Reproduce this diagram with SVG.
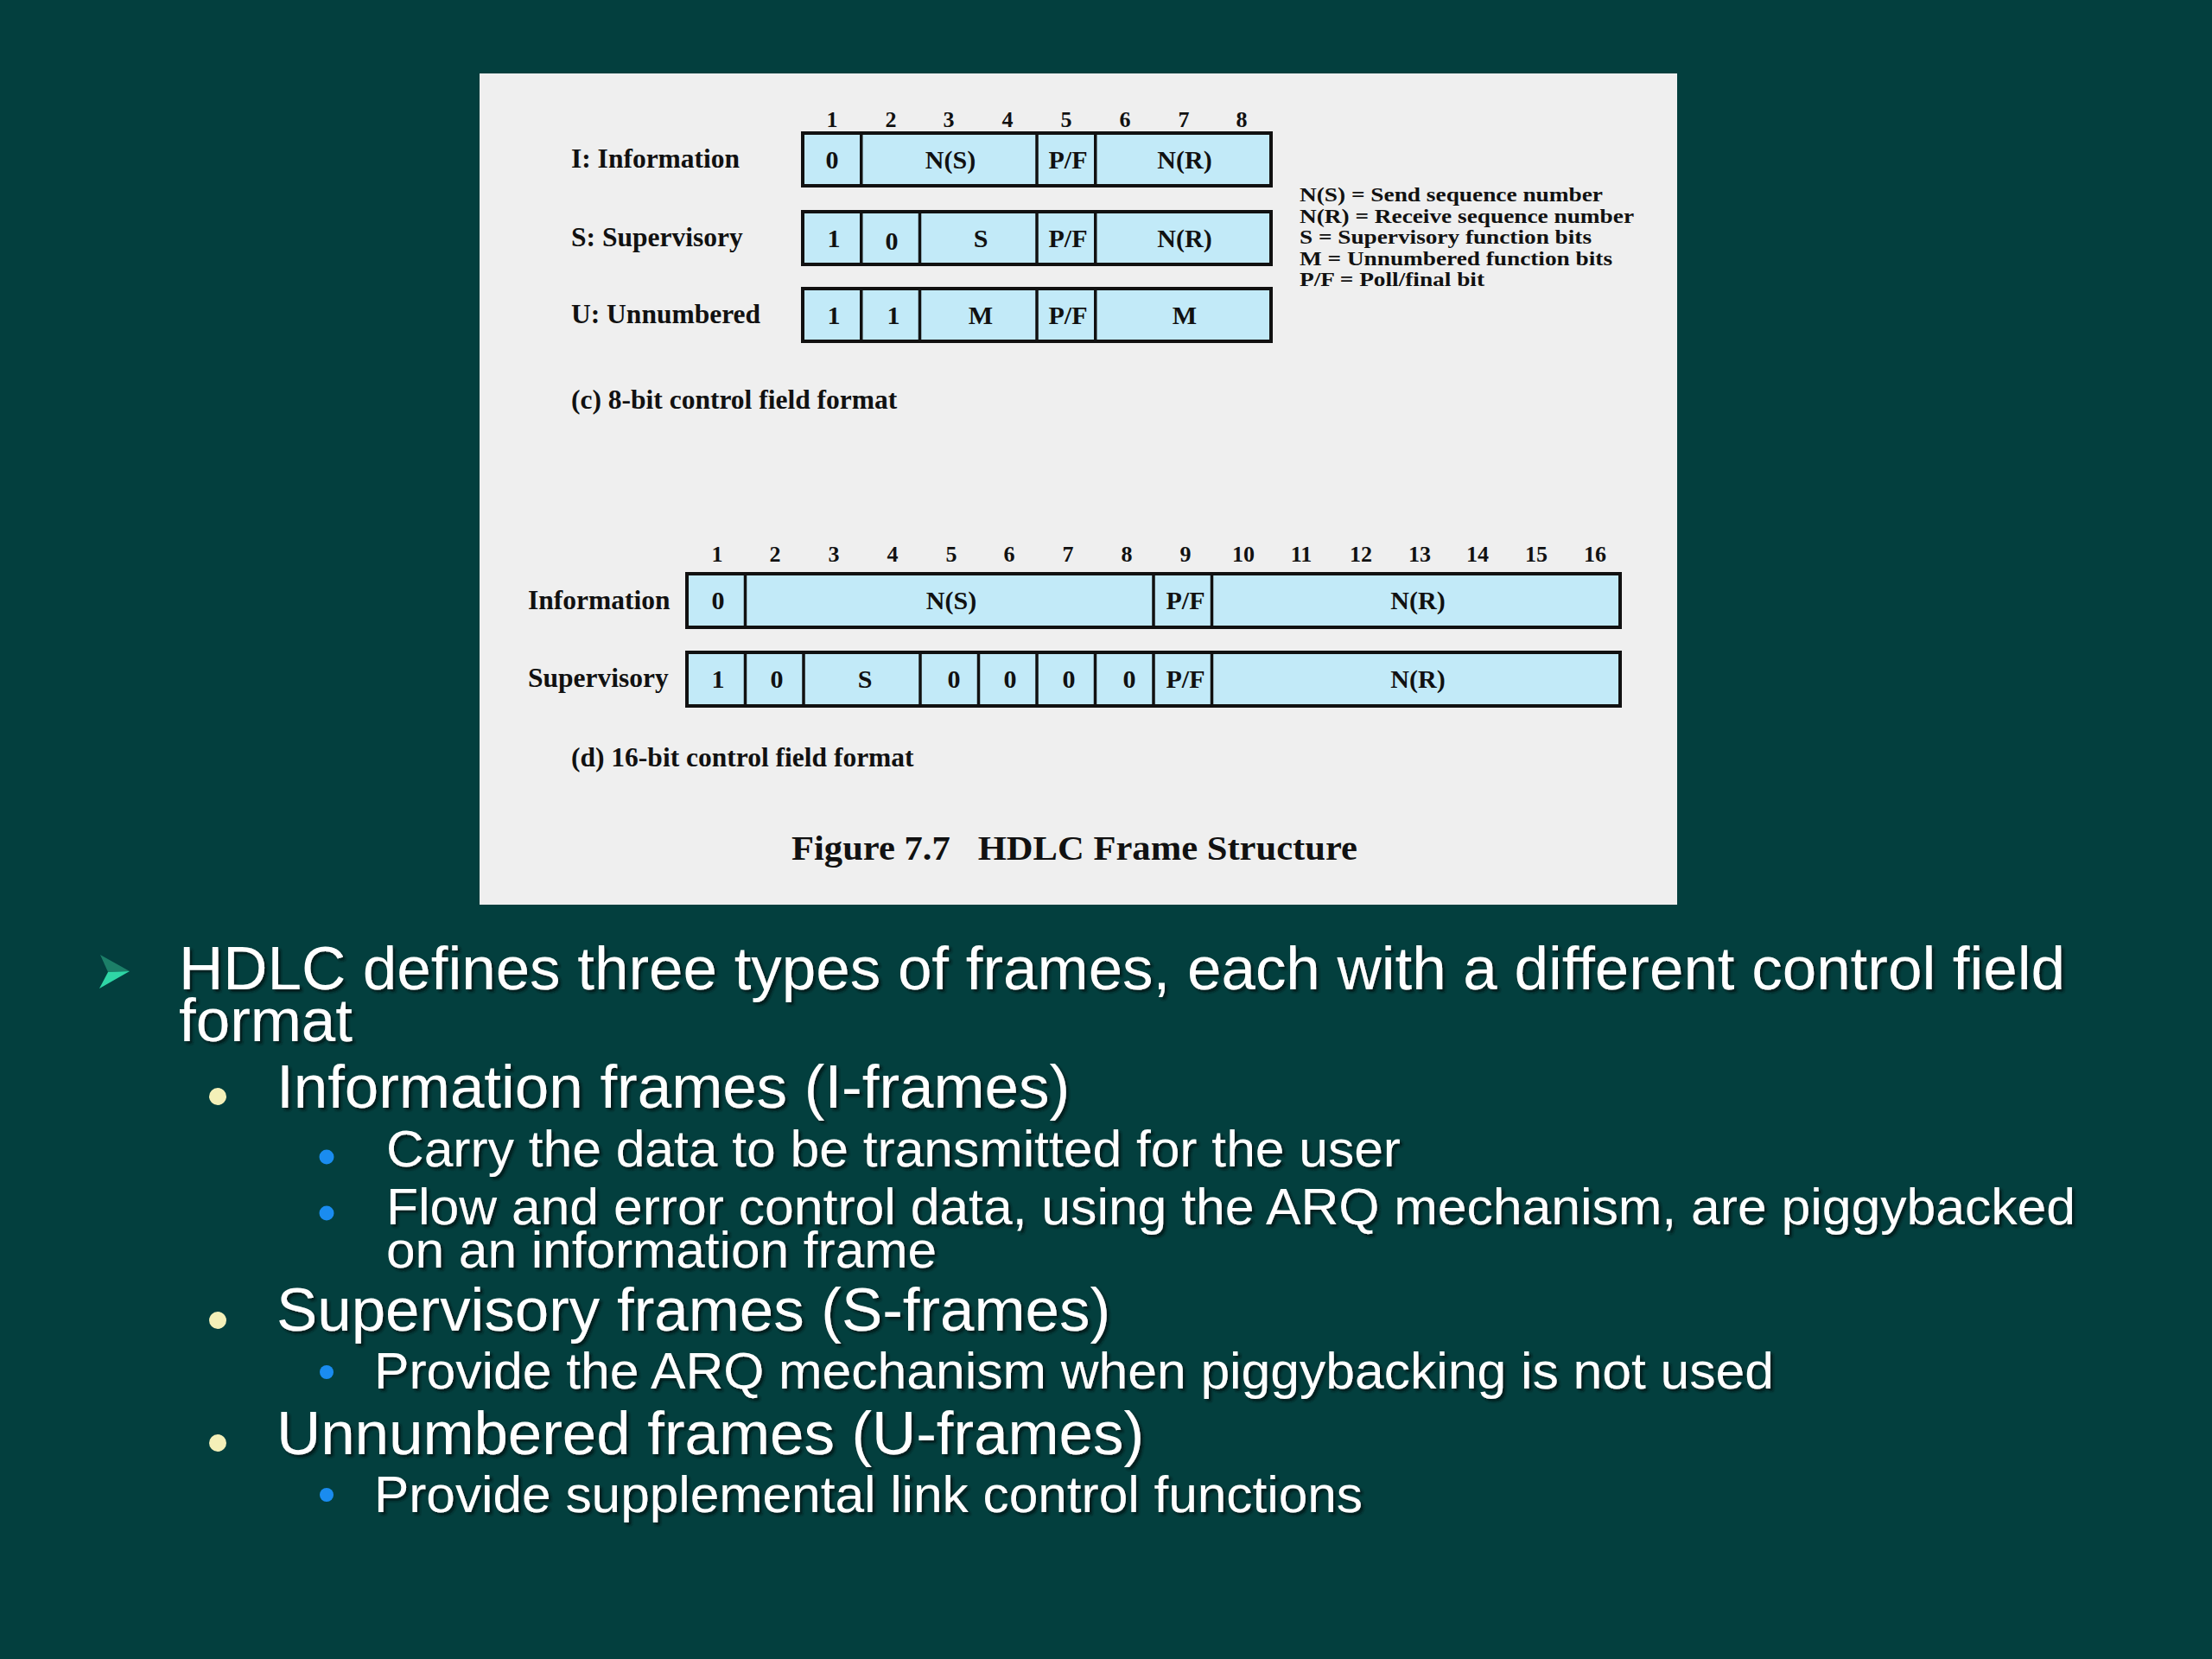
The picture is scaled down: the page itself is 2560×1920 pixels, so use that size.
<svg xmlns="http://www.w3.org/2000/svg" width="2560" height="1920" viewBox="0 0 2560 1920">
<defs>
<filter id="sh" x="-5%" y="-20%" width="110%" height="150%">
<feDropShadow dx="3" dy="3" stdDeviation="1.5" flood-color="#001412" flood-opacity="0.9"/>
</filter>
<style>
.f{font-family:"Liberation Serif","Times New Roman",serif;font-weight:bold;fill:#111;}
.cell{fill:#c2eaf8;stroke:#111;stroke-width:4;}
.div{stroke:#111;stroke-width:3.5;}
.n{font-size:26px;text-anchor:middle;}
.c{font-size:30px;text-anchor:middle;}
.lab{font-size:31.5px;}
.cap{font-size:31.5px;}
.leg{font-size:24px;}
.s{font-family:"Liberation Sans",Arial,sans-serif;fill:#ffffff;filter:url(#sh);}
.l1{font-size:71px;}
.l2{font-size:71px;}
.l3{font-size:60px;}
.yb{fill:#f4f0b8;}
.bb{fill:#1a8cf0;}
</style>
</defs>
<rect width="2560" height="1920" fill="#033f3e"/>
<rect x="555" y="85" width="1386" height="962" fill="#efefef"/>

<g id="eight-bit">
<g class="f n">
<text x="963" y="147">1</text><text x="1031" y="147">2</text><text x="1098" y="147">3</text><text x="1166" y="147">4</text>
<text x="1234" y="147">5</text><text x="1302" y="147">6</text><text x="1370" y="147">7</text><text x="1437" y="147">8</text>
</g>
<g id="row-i">
<text class="f lab" x="661" y="194">I: Information</text>
<rect class="cell" x="929" y="154" width="542" height="61"/>
<line class="div" x1="996.75" y1="154" x2="996.75" y2="215"/>
<line class="div" x1="1200" y1="154" x2="1200" y2="215"/>
<line class="div" x1="1267.75" y1="154" x2="1267.75" y2="215"/>
<text class="f c" x="963" y="195">0</text>
<text class="f c" x="1100" y="195">N(S)</text>
<text class="f c" x="1236" y="195">P/F</text>
<text class="f c" x="1371" y="195">N(R)</text>
</g>
<g id="row-s">
<text class="f lab" x="661" y="285">S: Supervisory</text>
<rect class="cell" x="929" y="245" width="542" height="61"/>
<line class="div" x1="996.75" y1="245" x2="996.75" y2="306"/>
<line class="div" x1="1064.5" y1="245" x2="1064.5" y2="306"/>
<line class="div" x1="1200" y1="245" x2="1200" y2="306"/>
<line class="div" x1="1267.75" y1="245" x2="1267.75" y2="306"/>
<text class="f c" x="965" y="286">1</text>
<text class="f c" x="1032" y="289">0</text>
<text class="f c" x="1135" y="286">S</text>
<text class="f c" x="1236" y="286">P/F</text>
<text class="f c" x="1371" y="286">N(R)</text>
</g>
<g id="row-u">
<text class="f lab" x="661" y="374">U: Unnumbered</text>
<rect class="cell" x="929" y="334" width="542" height="61"/>
<line class="div" x1="996.75" y1="334" x2="996.75" y2="395"/>
<line class="div" x1="1064.5" y1="334" x2="1064.5" y2="395"/>
<line class="div" x1="1200" y1="334" x2="1200" y2="395"/>
<line class="div" x1="1267.75" y1="334" x2="1267.75" y2="395"/>
<text class="f c" x="965" y="375">1</text>
<text class="f c" x="1034" y="375">1</text>
<text class="f c" x="1135" y="375">M</text>
<text class="f c" x="1236" y="375">P/F</text>
<text class="f c" x="1371" y="375">M</text>
</g>
<g id="legend" class="f leg">
<text x="1504" y="233" textLength="351" lengthAdjust="spacingAndGlyphs">N(S) = Send sequence number</text>
<text x="1504" y="258" textLength="387" lengthAdjust="spacingAndGlyphs">N(R) = Receive sequence number</text>
<text x="1504" y="282" textLength="338" lengthAdjust="spacingAndGlyphs">S = Supervisory function bits</text>
<text x="1504" y="307" textLength="362" lengthAdjust="spacingAndGlyphs">M = Unnumbered function bits</text>
<text x="1504" y="331" textLength="214" lengthAdjust="spacingAndGlyphs">P/F = Poll/final bit</text>
</g>
<text class="f cap" x="661" y="473">(c) 8-bit control field format</text>
</g>

<g id="sixteen-bit">
<g class="f n">
<text x="830" y="650">1</text><text x="897" y="650">2</text><text x="965" y="650">3</text><text x="1033" y="650">4</text>
<text x="1101" y="650">5</text><text x="1168" y="650">6</text><text x="1236" y="650">7</text><text x="1304" y="650">8</text>
<text x="1372" y="650">9</text><text x="1439" y="650">10</text><text x="1506" y="650">11</text><text x="1575" y="650">12</text>
<text x="1643" y="650">13</text><text x="1710" y="650">14</text><text x="1778" y="650">15</text><text x="1846" y="650">16</text>
</g>
<g id="row16-i">
<text class="f lab" x="611" y="705">Information</text>
<rect class="cell" x="795" y="664" width="1080" height="62"/>
<line class="div" x1="862.5" y1="664" x2="862.5" y2="726"/>
<line class="div" x1="1335" y1="664" x2="1335" y2="726"/>
<line class="div" x1="1402.5" y1="664" x2="1402.5" y2="726"/>
<text class="f c" x="831" y="705">0</text>
<text class="f c" x="1101" y="705">N(S)</text>
<text class="f c" x="1372" y="705">P/F</text>
<text class="f c" x="1641" y="705">N(R)</text>
</g>
<g id="row16-s">
<text class="f lab" x="611" y="795">Supervisory</text>
<rect class="cell" x="795" y="755" width="1080" height="62"/>
<line class="div" x1="862.5" y1="755" x2="862.5" y2="817"/>
<line class="div" x1="930" y1="755" x2="930" y2="817"/>
<line class="div" x1="1065" y1="755" x2="1065" y2="817"/>
<line class="div" x1="1132.5" y1="755" x2="1132.5" y2="817"/>
<line class="div" x1="1200" y1="755" x2="1200" y2="817"/>
<line class="div" x1="1267.5" y1="755" x2="1267.5" y2="817"/>
<line class="div" x1="1335" y1="755" x2="1335" y2="817"/>
<line class="div" x1="1402.5" y1="755" x2="1402.5" y2="817"/>
<text class="f c" x="831" y="796">1</text>
<text class="f c" x="899" y="796">0</text>
<text class="f c" x="1001" y="796">S</text>
<text class="f c" x="1104" y="796">0</text>
<text class="f c" x="1169" y="796">0</text>
<text class="f c" x="1237" y="796">0</text>
<text class="f c" x="1307" y="796">0</text>
<text class="f c" x="1372" y="796">P/F</text>
<text class="f c" x="1641" y="796">N(R)</text>
</g>
<text class="f cap" x="661" y="887">(d) 16-bit control field format</text>
</g>
<text class="f" x="916" y="995" font-size="40" textLength="655" lengthAdjust="spacingAndGlyphs" xml:space="preserve">Figure 7.7   HDLC Frame Structure</text>

<g id="bullets-text">
<polygon points="116,1105 150,1124 125,1125" fill="#1c7f68"/>
<polygon points="125,1125 150,1124 115,1144" fill="#2fd6a6"/>
<text class="s l1" x="207" y="1145" textLength="2183" lengthAdjust="spacingAndGlyphs">HDLC defines three types of frames, each with a different control field</text>
<text class="s l1" x="207" y="1205" textLength="201" lengthAdjust="spacingAndGlyphs">format</text>

<circle class="yb" cx="252" cy="1269" r="10"/>
<text class="s l2" x="320" y="1282" textLength="918" lengthAdjust="spacingAndGlyphs">Information frames (I-frames)</text>
<circle class="bb" cx="378" cy="1339" r="8.5"/>
<text class="s l3" x="447" y="1350" textLength="1174" lengthAdjust="spacingAndGlyphs">Carry the data to be transmitted for the user</text>
<circle class="bb" cx="378" cy="1404" r="8.5"/>
<text class="s l3" x="447" y="1417" textLength="1955" lengthAdjust="spacingAndGlyphs">Flow and error control data, using the ARQ mechanism, are piggybacked</text>
<text class="s l3" x="447" y="1467" textLength="637" lengthAdjust="spacingAndGlyphs">on an information frame</text>

<circle class="yb" cx="252" cy="1528" r="10"/>
<text class="s l2" x="320" y="1540" textLength="965" lengthAdjust="spacingAndGlyphs">Supervisory frames (S-frames)</text>
<circle class="bb" cx="378" cy="1588" r="8"/>
<text class="s l3" x="433" y="1607" textLength="1620" lengthAdjust="spacingAndGlyphs">Provide the ARQ mechanism when piggybacking is not used</text>

<circle class="yb" cx="252" cy="1670" r="10"/>
<text class="s l2" x="320" y="1683" textLength="1004" lengthAdjust="spacingAndGlyphs">Unnumbered frames (U-frames)</text>
<circle class="bb" cx="378" cy="1730" r="8"/>
<text class="s l3" x="433" y="1750" textLength="1144" lengthAdjust="spacingAndGlyphs">Provide supplemental link control functions</text>
</g>
</svg>
